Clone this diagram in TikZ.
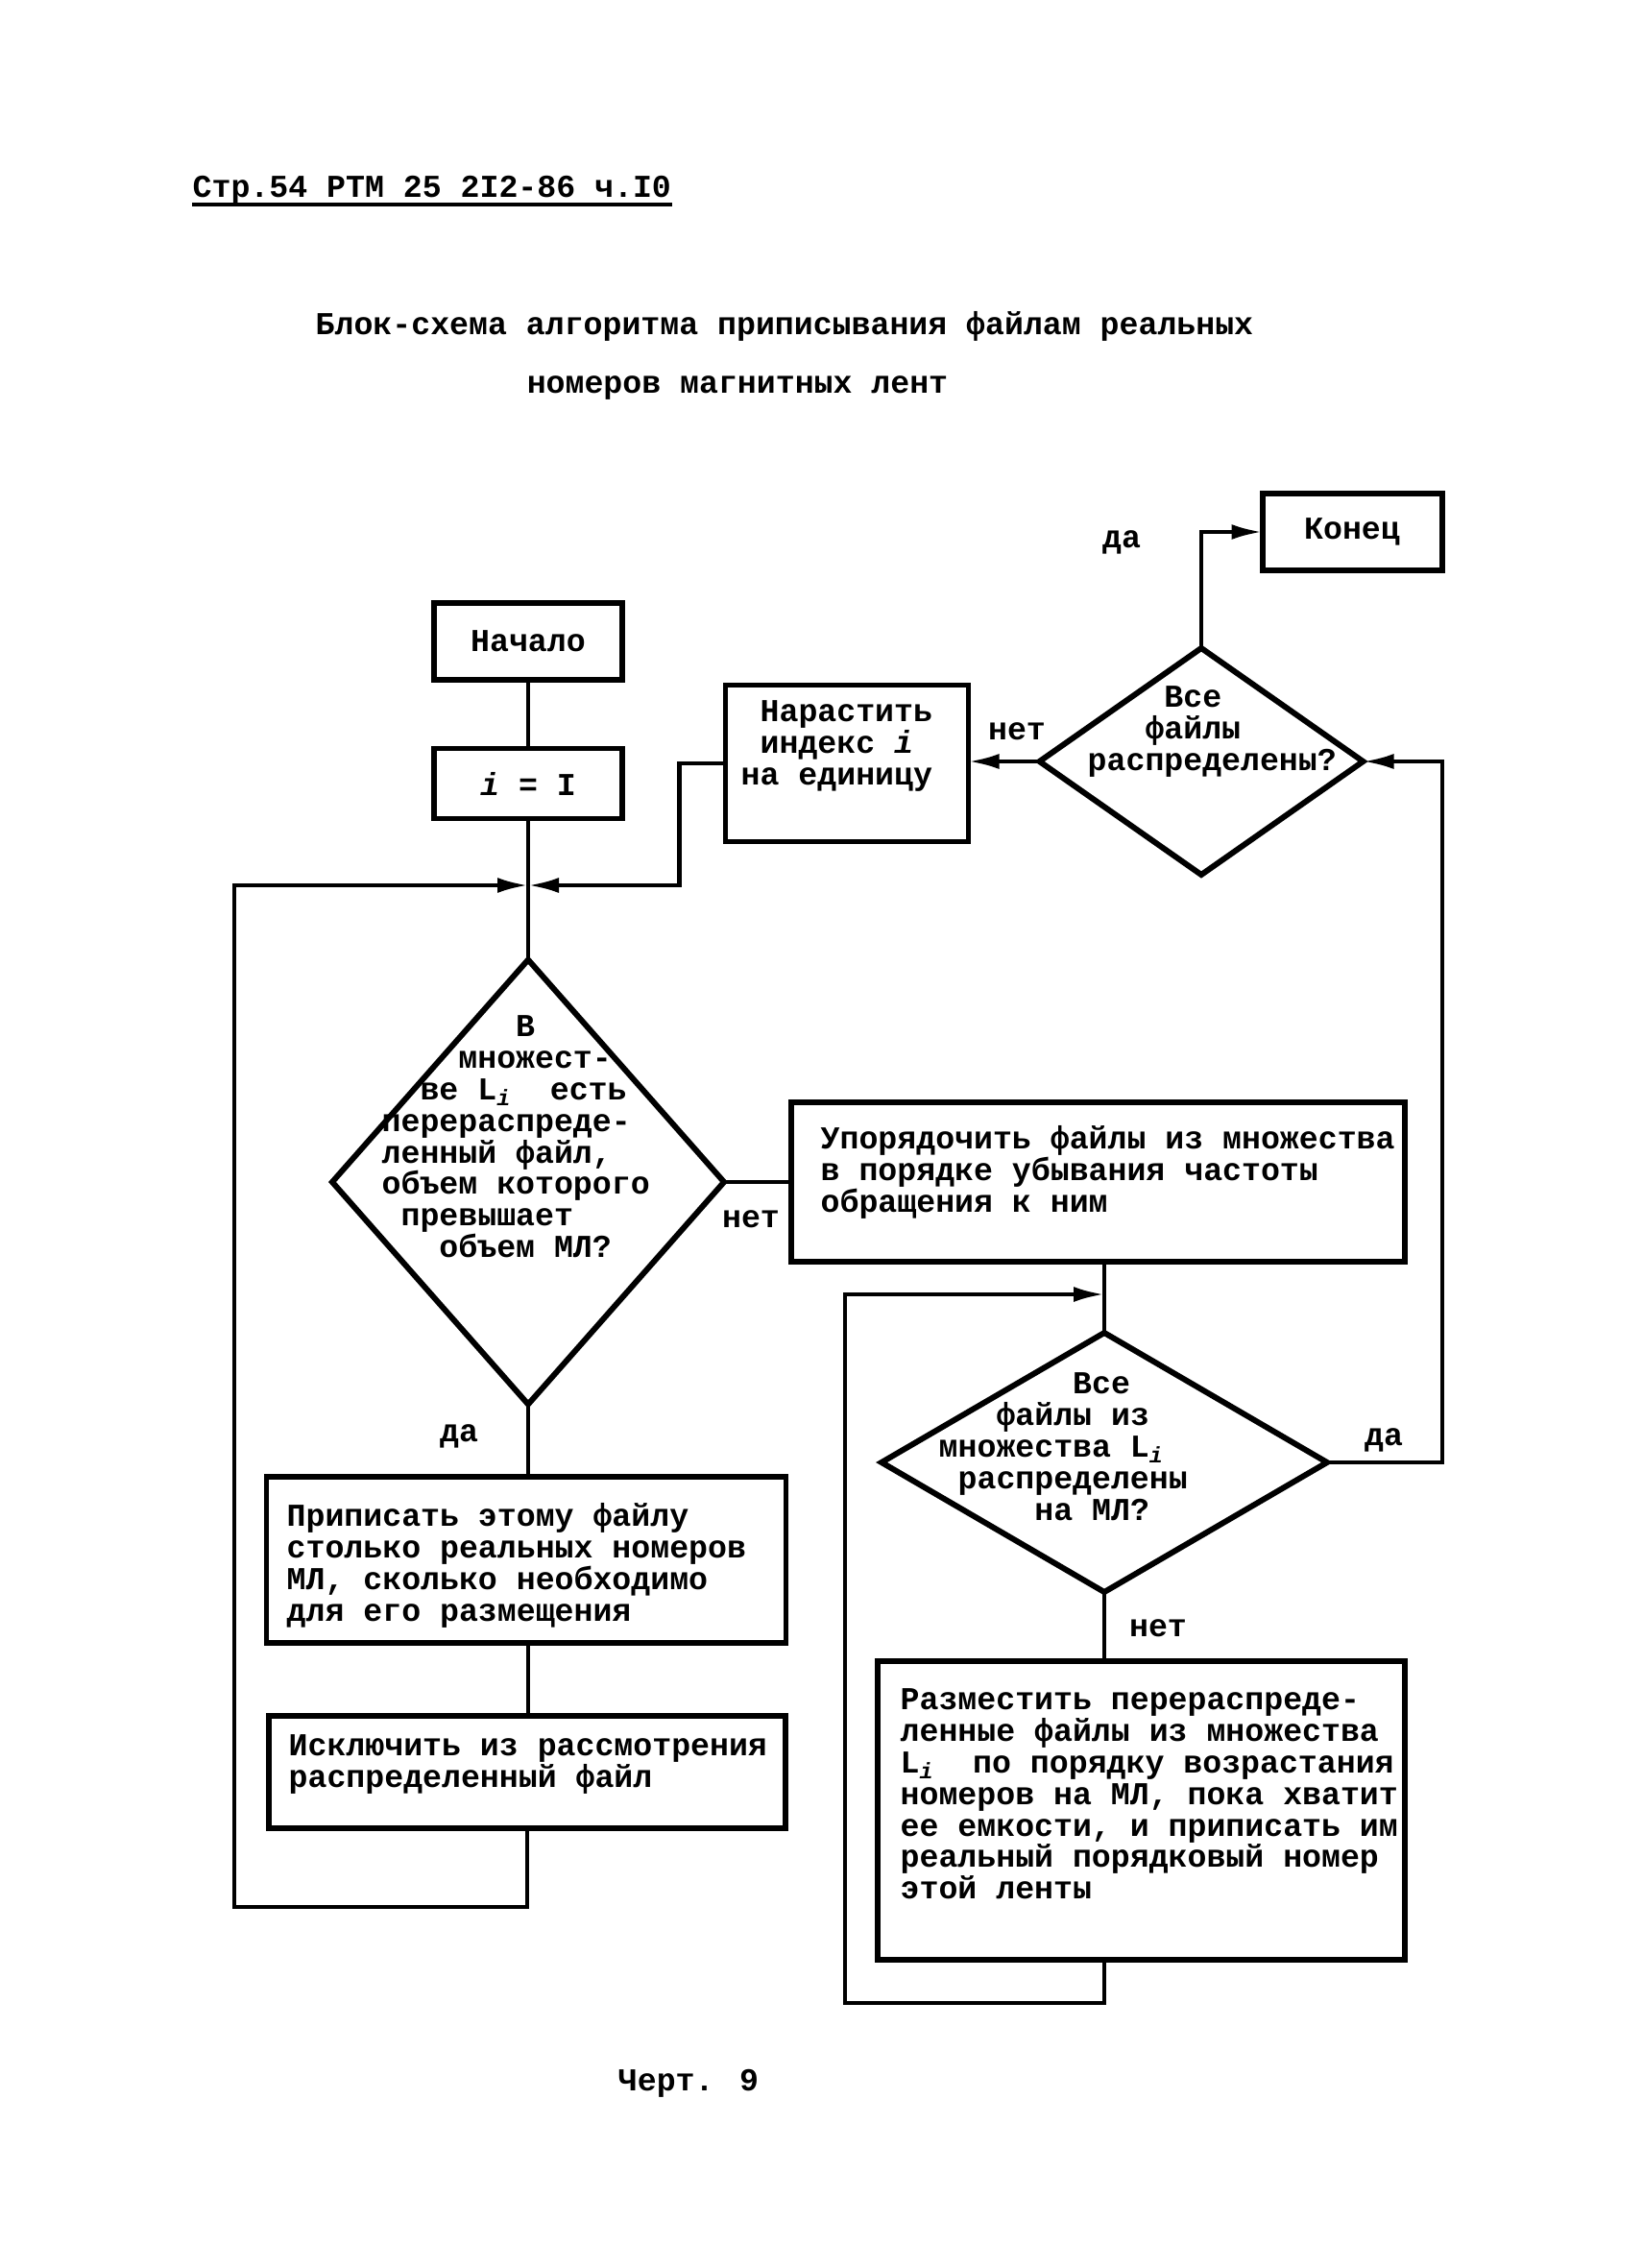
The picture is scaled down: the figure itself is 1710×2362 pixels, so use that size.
\documentclass[tikz,border=0pt]{standalone}
\usepackage{fontspec}
\setmainfont{Liberation Mono}
\usetikzlibrary{shapes.geometric,arrows.meta}
\begin{document}
\begin{tikzpicture}[x=0.1mm,y=-0.1mm,
  font=\fontsize{9.45pt}{9.35pt}\selectfont\bfseries,
  box/.style={draw,line width=1.7pt,rectangle,inner sep=0pt,outer sep=0pt},
  dia/.style={draw,line width=1.7pt,diamond,inner sep=0pt,outer sep=0pt},
  txt/.style={anchor=north west,inner sep=0pt,align=left},
  lbl/.style={inner sep=0pt},
  ln/.style={line width=1.2pt},
  arr/.style={ln,-{Latex[length=3.2mm,width=1.6mm]}}
]
\fill[white] (0,0) rectangle (1710,2362);
\useasboundingbox (0,0) rectangle (1710,2362);

% header and title
\node[lbl,anchor=base west] (hdr) at (200,205) {Стр.54 РТМ 25 2I2-86 ч.I0};
\draw[line width=1.2pt] ([yshift=-0.8mm]hdr.base west) -- ([yshift=-0.8mm]hdr.base east);
\node[lbl] (ttl1) at (817,340) {Блок-схема алгоритма приписывания файлам реальных};
\node[lbl] (ttl2) at (768,404) {номеров магнитных лент};

% blocks
\node[box,minimum width=19.6mm,minimum height=8mm] (nach) at (550,668) {Начало};
\node[box,minimum width=19.6mm,minimum height=7.3mm] (ione) at (550,816) {\textit{i} = I};
\node[box,minimum width=25.3mm,minimum height=16.3mm] (nar) at (882,795) {};
\node[txt] (tnar) at (771,729) {~Нарастить\\~индекс \textit{i}\\на единицу};
\node[box,minimum width=18.7mm,minimum height=8mm] (kon) at (1408,554) {Конец};
\node[dia,minimum width=33.7mm,minimum height=23.6mm] (d1) at (1251,793) {};
\node[txt] (td1) at (1132,714) {~~~~Все\\~~~файлы\\распределены?};
\node[dia,minimum width=40.8mm,minimum height=46.3mm] (dA) at (550,1231) {};
\node[txt] (tdA) at (397,1057) {~~~~~~~В\\~~~~множест-\\~~ве L\textsubscript{\textit{i}}~~есть\\перераспреде-\\ленный файл,\\объем которого\\~превышает\\~~~объем МЛ?};
\node[box,minimum width=63.9mm,minimum height=16.6mm] (upor) at (1143,1231) {};
\node[txt] (tupor) at (854,1172) {Упорядочить файлы из множества\\в порядке убывания частоты\\обращения к ним};
\node[dia,minimum width=46.4mm,minimum height=27mm] (d2) at (1150,1523) {};
\node[txt] (td2) at (977,1429) {~~~~~~~Все\\~~~файлы из\\множества L\textsubscript{\textit{i}}\\~распределены\\~~~~~на МЛ?};
\node[box,minimum width=54.9mm,minimum height=31.1mm] (razm) at (1188,1885) {};
\node[txt] (trazm) at (937,1758) {Разместить перераспреде-\\ленные файлы из множества\\L\textsubscript{\textit{i}}~~по порядку возрастания\\номеров на МЛ, пока хватит\\ее емкости, и приписать им\\реальный порядковый номер\\этой ленты};
\node[box,minimum width=54.1mm,minimum height=17.3mm] (prip) at (548,1624) {};
\node[txt] (tprip) at (298,1565) {Приписать этому файлу\\столько реальных номеров\\МЛ, сколько необходимо\\для его размещения};
\node[box,minimum width=53.8mm,minimum height=11.7mm] (iskl) at (549,1845) {};
\node[txt] (tiskl) at (300,1806) {Исключить из рассмотрения\\распределенный файл};

% labels
\node[lbl] (l1) at (1168,565) {да};
\node[lbl] (l2) at (1059,762) {нет};
\node[lbl] (l3) at (782,1270) {нет};
\node[lbl] (l4) at (478,1496) {да};
\node[lbl] (l5) at (1441,1500) {да};
\node[lbl] (l6) at (1206,1696) {нет};
\node[lbl] (cap) at (717,2170) {Черт. 9};

\coordinate (J) at (550,922);
\coordinate (J2) at (1150,1348);

% connectors
\draw[ln] (nach) -- (ione);
\draw[ln] (ione) -- (J) -- (dA.north);
\draw[arr] (nar.west) -- ++(-48,0) |- (J);
\draw[arr] (iskl.south) |- (244,1986) |- (J);
\draw[arr] (d1.west) -- (nar.east |- d1.west);
\draw[arr] (d1.north) |- (kon.west);
\draw[ln] (dA.east) -- (upor.west |- dA.east);
\draw[ln] (upor.south -| d2.north) -- (d2.north);
\draw[ln] (d2.south) -- (d2.south |- razm.north);
\draw[arr] (d2.east) -- (1502,1523) |- (d1.east);
\draw[arr] (razm.south -| d2.south) |- (880,2086) |- (J2);
\draw[ln] (dA.south) -- (dA.south |- prip.north);
\draw[ln] (prip.south -| dA.south) -- (iskl.north -| dA.south);
\end{tikzpicture}
\end{document}
